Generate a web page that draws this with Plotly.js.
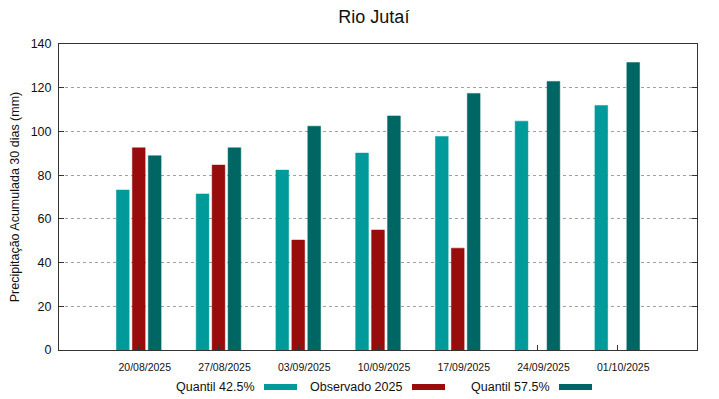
<!DOCTYPE html>
<html>
<head>
<meta charset="utf-8">
<script src="https://cdn.plot.ly/plotly-3.0.1.min.js"></script>
<style>html,body{margin:0;padding:0;background:#fff;}#chart{width:719px;height:399px;}</style>
</head>
<body>
<div id="chart"></div>
<script>
const categories = ["20/08/2025","27/08/2025","03/09/2025","10/09/2025","17/09/2025","24/09/2025","01/10/2025"];
const quantil425 = [73.2, 71.4, 82.3, 90.1, 97.7, 104.7, 111.9];
const observado2025 = [92.5, 84.6, 50.3, 54.9, 46.6, null, null];
const quantil575 = [88.9, 92.5, 102.4, 107.1, 117.4, 122.9, 131.5];
const seriesNames = ["Quantil 42.5%", "Observado 2025", "Quantil 57.5%"];
const seriesColors = ["#009a9a", "#990c0c", "#006664"];
const yTicks = [0, 20, 40, 60, 80, 100, 120, 140];

const xIdx = categories.map((c, i) => i);
const allSeries = [quantil425, observado2025, quantil575];
const traces = allSeries.map((vals, k) => ({
  type: "bar",
  x: xIdx,
  y: vals,
  name: seriesNames[k],
  marker: {color: seriesColors[k], line: {color: seriesColors[k], width: 0.5}},
  hoverinfo: "y"
}));

// plot area in pixels
const L = 59, R = 22, T = 44, B = 49, W = 719, H = 399;
const pw = W - L - R, ph = H - T - B;
const px2paperX = p => (p - L) / pw;
const px2paperY = p => (H - B - p) / ph;

const legendItems = [
  {textRight: 257, s0: 264, s1: 297},
  {textRight: 404, s0: 412, s1: 445},
  {textRight: 552, s0: 559, s1: 592}
];
const legY = 387;
const FONT = "Liberation Sans, Arial, sans-serif";
const annotations = legendItems.map((it, k) => ({
  xref: "paper", yref: "paper",
  x: px2paperX(it.textRight), y: px2paperY(legY),
  xanchor: "right", yanchor: "middle",
  text: seriesNames[k], showarrow: false,
  font: {family: FONT, size: 12.5, color: "#111"}
}));
const shapes = legendItems.map((it, k) => ({
  type: "line", xref: "paper", yref: "paper",
  x0: px2paperX(it.s0), x1: px2paperX(it.s1),
  y0: px2paperY(legY), y1: px2paperY(legY),
  line: {color: seriesColors[k], width: 6}
}));

const layout = {
  width: W, height: H,
  margin: {l: L, r: R, t: T, b: B, pad: 0},
  paper_bgcolor: "#fff", plot_bgcolor: "#fff",
  showlegend: false,
  barmode: "group",
  bargap: 0.4,
  bargroupgap: 0.2,
  font: {family: FONT, color: "#111"},
  title: {text: "Rio Jutaí", x: 0.52, xanchor: "center", y: 0.957, yanchor: "middle",
          font: {size: 18, family: FONT, color: "#111"}},
  xaxis: {
    range: [-1, 7],
    tickmode: "array", tickvals: xIdx, ticktext: categories,
    ticks: "inside", ticklen: 5, tickcolor: "#333",
    showline: true, linecolor: "#333", linewidth: 1, mirror: true,
    showgrid: false, zeroline: false,
    tickfont: {size: 10.5, color: "#111"},
    ticklabelstandoff: 7,
    ticklabelshift: 6,
    fixedrange: true
  },
  yaxis: {
    range: [0, 140],
    tickmode: "array", tickvals: yTicks,
    ticks: "inside", ticklen: 5, tickcolor: "#333",
    showline: true, linecolor: "#333", linewidth: 1, mirror: "ticks",
    showgrid: true, gridcolor: "#a0a0a0", griddash: "dot", gridwidth: 1,
    zeroline: false,
    tickfont: {size: 12.5, color: "#111"},
    ticklabelstandoff: 4,
    title: {text: "Precipitação Acumulada 30 dias (mm)", standoff: 8,
            font: {size: 12.5, color: "#111"}},
    fixedrange: true
  },
  annotations: annotations,
  shapes: shapes
};

Plotly.newPlot("chart", traces, layout, {staticPlot: true, displayModeBar: false});
</script>
</body>
</html>
